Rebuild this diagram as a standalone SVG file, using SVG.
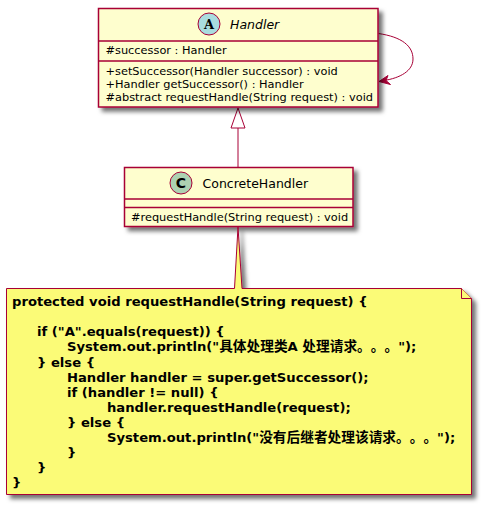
<svg xmlns="http://www.w3.org/2000/svg" width="482" height="505" viewBox="0 0 482 505">
<style>
text{font-family:"DejaVu Sans","Noto Sans CJK SC",sans-serif;fill:#000;text-spacing-trim:space-all}
.m{font-size:11.350px}
.n{font-size:12.500px}
.note{font-size:13.150px;font-weight:bold}
.cjk{font-size:13.700px;font-family:"Noto Sans CJK SC",sans-serif}
.box{fill:#FEFECE;stroke:#A80036;stroke-width:1.5}
.sep{stroke:#A80036;stroke-width:1.5;fill:none}
.c{stroke:#A80036;stroke-width:1;fill:none}
</style>
<defs>
<filter id="s" x="-10%" y="-10%" width="125%" height="125%"><feDropShadow dx="4" dy="4" stdDeviation="2" flood-color="#000" flood-opacity="0.55"/></filter>
</defs>
<g id="connectors">
<path class="c" d="M378.500,33.500 C402,37 413,46 413,59 C413,71 400,78 384,80.500"/>
<polygon points="379,81.500 390.500,84.500 386,80.500 388,75.500" fill="#A80036" stroke="#A80036"/>
<polygon points="238,108 231,128 245,128" fill="#fff" stroke="#A80036"/>
<path class="c" d="M238,128 V167"/>
</g>
<g id="Handler">
<rect class="box" x="98.500" y="8.500" width="279.500" height="98.500" filter="url(#s)"/>
<path class="sep" d="M98.500,41 H378 M98.500,61 H378"/>
<circle cx="209" cy="24" r="11" fill="#A9DCDF" stroke="#A80036"/>
<text x="209" y="28.500" text-anchor="middle" style="font-size:13px;font-weight:bold;font-family:'DejaVu Serif',serif">A</text>
<text class="n" x="230" y="28.500" font-style="italic">Handler</text>
<text class="m" x="105.500" y="54">#successor : Handler</text>
<text class="m" x="105.500" y="75">+setSuccessor(Handler successor) : void</text>
<text class="m" x="105.500" y="88">+Handler getSuccessor() : Handler</text>
<text class="m" x="105.500" y="101">#abstract requestHandle(String request) : void</text>
</g>
<g id="ConcreteHandler">
<rect class="box" x="124.500" y="167.500" width="228.500" height="59" filter="url(#s)"/>
<path class="sep" d="M124.500,199 H353 M124.500,207.500 H353"/>
<circle cx="181" cy="183" r="11" fill="#ADD1B2" stroke="#A80036"/>
<text x="181" y="188" text-anchor="middle" style="font-size:14px;font-weight:bold">C</text>
<text class="n" x="202.500" y="187.500">ConcreteHandler</text>
<text class="m" x="131" y="221">#requestHandle(String request) : void</text>
</g>
<g id="note">
<path d="M6.500,288.500 H234.500 L238,227 L242,288.500 H461.500 L471.500,298.500 V494.500 H6.500 Z" fill="#FBFB77" stroke="#A80036" filter="url(#s)"/>
<path d="M461.500,288.500 V298.500 H471.500" fill="#FBFB77" stroke="#A80036"/>
<text class="note" x="12" y="306">protected void requestHandle(String request) {</text>
<text class="note" x="37" y="336">if ("A".equals(request)) {</text>
<text class="note" x="67" y="351">System.out.println("<tspan class="cjk">具体处理类</tspan>A <tspan class="cjk">处理请求。。。</tspan>");</text>
<text class="note" x="37" y="366.500">} else {</text>
<text class="note" x="67" y="381.500">Handler handler = super.getSuccessor();</text>
<text class="note" x="67" y="396.500">if (handler != null) {</text>
<text class="note" x="107" y="411.500">handler.requestHandle(request);</text>
<text class="note" x="67" y="426.500">} else {</text>
<text class="note" x="107" y="441.500">System.out.println("<tspan class="cjk">没有后继者处理该请求。。。</tspan>");</text>
<text class="note" x="67" y="456.500">}</text>
<text class="note" x="37" y="472">}</text>
<text class="note" x="12" y="487">}</text>
</g>
</svg>
